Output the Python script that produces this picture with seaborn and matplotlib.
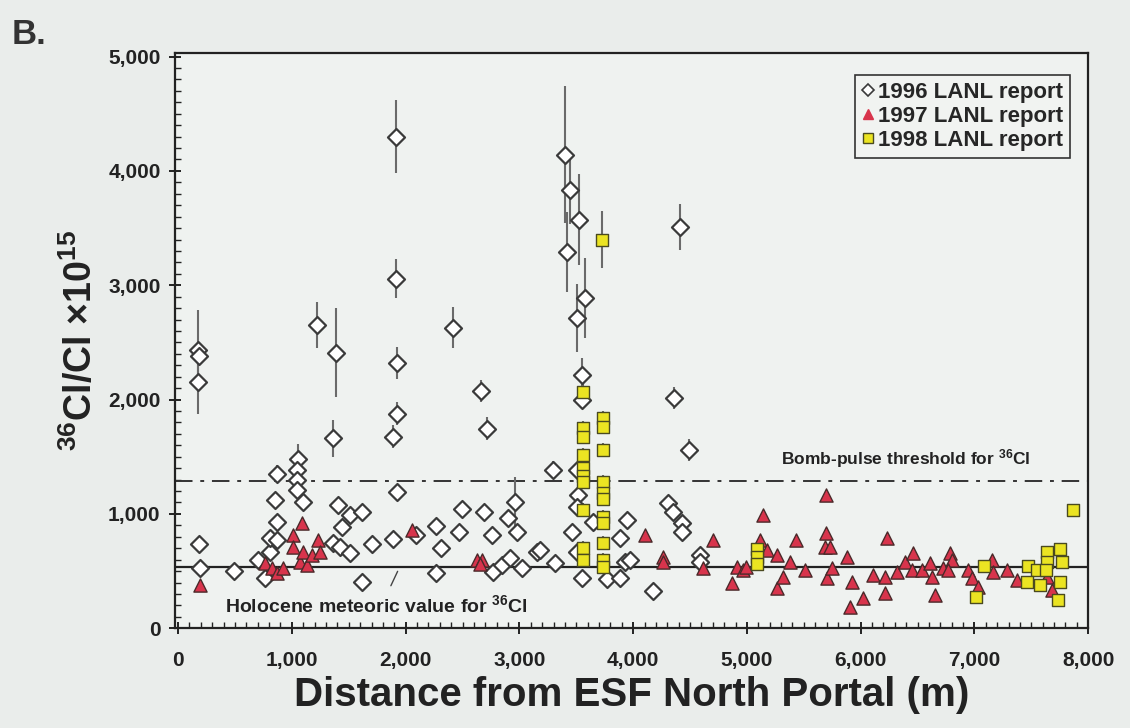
import numpy as np
import pandas as pd
import matplotlib
matplotlib.use("Agg")
import matplotlib.pyplot as plt
import seaborn as sns
from matplotlib.ticker import MultipleLocator, FuncFormatter
from matplotlib.lines import Line2D

# ---------------- data ----------------
# 1996 LANL report (open diamonds) : distance (m), 36Cl/Cl x1e15, error
d96_x = [176, 185, 176, 185, 190, 490, 700, 765, 810, 810, 870, 855, 870, 870,
         1055, 1046, 1046, 1046, 1099, 1363, 1390, 1222, 1407, 1442, 1512, 1618,
         1363, 1424, 1512, 1618, 1705, 1890, 1925, 1925, 1890, 1925, 1916, 1916,
         2090, 2268, 2312, 2268, 2418, 2470, 2497, 2664, 2716, 2690, 2760, 2769,
         2848, 2901, 2980, 2963, 2919, 3024, 3156, 3297, 3182, 3314, 3402, 3446,
         3525, 3420, 3578, 3508, 3552, 3552, 3508, 3516, 3508, 3648, 3464, 3508,
         3552, 3886, 3947, 3771, 3886, 3930, 3974, 4360, 4492, 4308, 4352, 4431,
         4431, 4589, 4589, 4176, 4413]
d96_y = [2430, 2380, 2150, 740, 530, 500, 595, 440, 665, 790, 930, 1120, 1350, 770,
         1480, 1380, 1300, 1210, 1100, 1660, 2410, 2650, 1077, 884, 990, 1016,
         744, 709, 656, 403, 736, 779, 2320, 1875, 1675, 1188, 4300, 3056,
         820, 893, 700, 481, 2627, 840, 1042, 2075, 1745, 1016, 814, 490,
         552, 963, 840, 1103, 613, 525, 670, 1383, 683, 569, 4142, 3835,
         3573, 3293, 2890, 2715, 2215, 1996, 1383, 1165, 1060, 928, 840, 665,
         438, 788, 946, 430, 438, 578, 595, 2014, 1559, 1095, 1016, 919,
         840, 639, 578, 330, 3511]
d96_err = [350, 0, 280, 0, 0, 0, 0, 0, 0, 0, 0, 0, 80, 0,
           130, 0, 0, 0, 0, 160, 390, 200, 0, 0, 0, 0,
           0, 0, 0, 0, 0, 0, 140, 100, 100, 0, 320, 170,
           0, 0, 0, 0, 180, 0, 0, 100, 100, 0, 0, 0,
           0, 0, 0, 220, 0, 0, 0, 80, 0, 0, 600, 300,
           400, 350, 350, 300, 150, 0, 0, 0, 0, 0, 0, 0,
           0, 0, 0, 0, 0, 0, 0, 100, 100, 0, 0, 0,
           0, 0, 0, 0, 200]

# 1997 LANL report (red triangles)
d97_x = [193, 765, 826, 870, 923, 1011, 1011, 1090, 1073, 1134, 1099, 1178, 1231,
         1248, 2060, 2628, 2672, 2650, 4105, 4264, 4264, 4615, 4703, 4870, 4914,
         4967, 4990, 5116, 5143, 5178, 5266, 5266, 5319, 5380, 5433, 5512, 5697,
         5697, 5688, 5732, 5705, 5750, 5881, 5925, 5908, 6022, 6110, 6233, 6215,
         6215, 6321, 6391, 6462, 6453, 6541, 6611, 6629, 6655, 6725, 6787, 6805,
         6769, 6945, 6980, 7033, 7156, 7165, 7288, 7376, 7640, 7683]
d97_y = [377, 569, 525, 481, 525, 814, 709, 919, 578, 552, 665, 639, 770,
         665, 860, 595, 595, 560, 814, 622, 578, 525, 770, 394, 534,
         508, 540, 770, 990, 683, 639, 350, 447, 578, 770, 508, 1165,
         832, 709, 709, 438, 525, 622, 403, 184, 263, 464, 788, 447,
         306, 490, 578, 657, 508, 508, 569, 447, 289, 525, 657, 595,
         508, 508, 438, 359, 595, 490, 508, 420, 447, 333]

# 1998 LANL report (yellow squares)
d98_x = [3727, 3560, 3560, 3560, 3560, 3560, 3560, 3560, 3560, 3560, 3560,
         3736, 3736, 3736, 3736, 3736, 3736, 3736, 3736, 3736, 3736, 3736,
         5090, 5090, 5090, 7015, 7086, 7473, 7552, 7640, 7640, 7631, 7754, 7771,
         7464, 7578, 7754, 7736, 7868]
d98_y = [3398, 2067, 1751, 1672, 1515, 1401, 1330, 1278, 1033, 700, 595,
         1839, 1760, 1559, 1278, 1182, 1128, 972, 918, 744, 595, 534,
         690, 620, 560, 271, 543, 543, 508, 665, 578, 508, 692, 578,
         403, 377, 403, 245, 1033]
d98_err = [250, 120, 60, 60, 60, 60, 60, 60, 60, 60, 60,
           60, 60, 60, 60, 60, 60, 60, 60, 60, 60, 60,
           0, 0, 0, 0, 0, 0, 0, 0, 0, 0, 0, 0,
           0, 0, 0, 0, 0]

holocene_value = 540
bomb_threshold = 1290

x_ticks = [0, 1000, 2000, 3000, 4000, 5000, 6000, 7000, 8000]
y_ticks = [0, 1000, 2000, 3000, 4000, 5000]
legend_labels = ["1996 LANL report", "1997 LANL report", "1998 LANL report"]

# ---------------- style ----------------
sns.set_theme(style="ticks")
plt.rcParams["font.family"] = ["Liberation Sans", "DejaVu Sans"]
plt.rcParams["font.weight"] = "bold"
plt.rcParams["mathtext.fontset"] = "custom"
plt.rcParams["mathtext.rm"] = "Liberation Sans:bold"
plt.rcParams["mathtext.it"] = "Liberation Sans:bold"
plt.rcParams["mathtext.bf"] = "Liberation Sans:bold"

bg = "#eaedeb"
fig = plt.figure(figsize=(11.3, 7.28), dpi=100, facecolor=bg)
ax = fig.add_axes([0.155, 0.137, 0.808, 0.790])
ax.set_facecolor("#eff2f0")

df96 = pd.DataFrame({"x": d96_x, "y": d96_y, "e": d96_err})
df97 = pd.DataFrame({"x": d97_x, "y": d97_y})
df98 = pd.DataFrame({"x": d98_x, "y": d98_y, "e": d98_err})

# reference lines
ax.axhline(holocene_value, color="#222222", lw=1.6, zorder=1)
ax.axhline(bomb_threshold, color="#333333", lw=1.4, ls=(0, (9, 4, 2, 4)), zorder=1)

# error bars
e96 = df96[df96.e > 0]
ax.errorbar(e96.x, e96.y, yerr=e96.e, fmt="none", ecolor="#6a6a6a", elinewidth=1.5, zorder=2)
e98 = df98[df98.e > 0]
ax.errorbar(e98.x, e98.y, yerr=e98.e, fmt="none", ecolor="#6a6a6a", elinewidth=1.5, zorder=2)

sns.scatterplot(data=df96, x="x", y="y", marker="D", s=75, facecolor="white",
                edgecolor="#3a3a3a", linewidth=1.6, ax=ax, zorder=3, legend=False)
sns.scatterplot(data=df97, x="x", y="y", marker="^", s=90, color="#d8344c",
                edgecolor="#4a2a2a", linewidth=1.0, ax=ax, zorder=4, legend=False)
sns.scatterplot(data=df98, x="x", y="y", marker="s", s=80, color="#ebe422",
                edgecolor="#4a4a20", linewidth=1.0, ax=ax, zorder=5, legend=False)

# legend
handles = [
    Line2D([], [], marker="D", ls="none", markersize=6.5, markerfacecolor="white",
           markeredgecolor="#3a3a3a", markeredgewidth=1.2),
    Line2D([], [], marker="^", ls="none", markersize=7.5, markerfacecolor="#d8344c",
           markeredgecolor="#d8344c"),
    Line2D([], [], marker="s", ls="none", markersize=7, markerfacecolor="#ebe422",
           markeredgecolor="#4a4a20"),
]
leg = ax.legend(handles, legend_labels, loc="upper right", bbox_to_anchor=(0.985, 0.97),
                frameon=True, fancybox=False, handlelength=0.6, handletextpad=0.15,
                borderpad=0.3, labelspacing=0.15, borderaxespad=0.2,
                prop={"weight": "bold", "size": 16})
leg.get_frame().set_edgecolor("#333333")
leg.get_frame().set_linewidth(1.2)
leg.get_frame().set_facecolor("#f1f3f1")
leg.get_frame().set_alpha(1)

# annotations
ax.text(7490, bomb_threshold + 90, r"Bomb-pulse threshold for $^{36}$Cl", ha="right",
        va="bottom", fontsize=12.5, fontweight="bold", color="#222222")
ax.text(410, 110, r"Holocene meteoric value for $^{36}$Cl", ha="left", va="bottom",
        fontsize=14, fontweight="bold", color="#222222")
ax.annotate("", xy=(1940, holocene_value - 20), xytext=(1860, 350),
            arrowprops=dict(arrowstyle="-", color="#444444", lw=1.0))

# axes
ax.set_xlim(-26, 8000)
ax.set_ylim(0, 5030)
ax.set_xticks(x_ticks)
ax.set_yticks(y_ticks)
fmt = FuncFormatter(lambda v, p: f"{int(v):,}")
ax.xaxis.set_major_formatter(fmt)
ax.yaxis.set_major_formatter(fmt)
ax.xaxis.set_minor_locator(MultipleLocator(100))
ax.yaxis.set_minor_locator(MultipleLocator(100))
ax.tick_params(which="major", direction="inout", length=9, width=1.4, colors="#222222",
               labelsize=15, pad=6)
ax.tick_params(axis="x", which="major", pad=12)
ax.tick_params(which="minor", direction="in", length=4, width=1.0, colors="#222222")
for lab in ax.get_xticklabels() + ax.get_yticklabels():
    lab.set_fontweight("bold")
for sp in ax.spines.values():
    sp.set_visible(True)
    sp.set_color("#222222")
    sp.set_linewidth(1.6)

ax.set_xlabel("Distance from ESF North Portal (m)", fontsize=29, fontweight="bold",
              color="#222222", labelpad=4)
ax.set_ylabel(r"$^{36}$Cl/Cl ×10$^{15}$", fontsize=27, fontweight="bold",
              color="#222222", labelpad=6)

fig.text(0.010, 0.94, "B.", fontsize=25, fontweight="bold", color="#333333")

fig.savefig("out.png", dpi=100, facecolor=bg)
